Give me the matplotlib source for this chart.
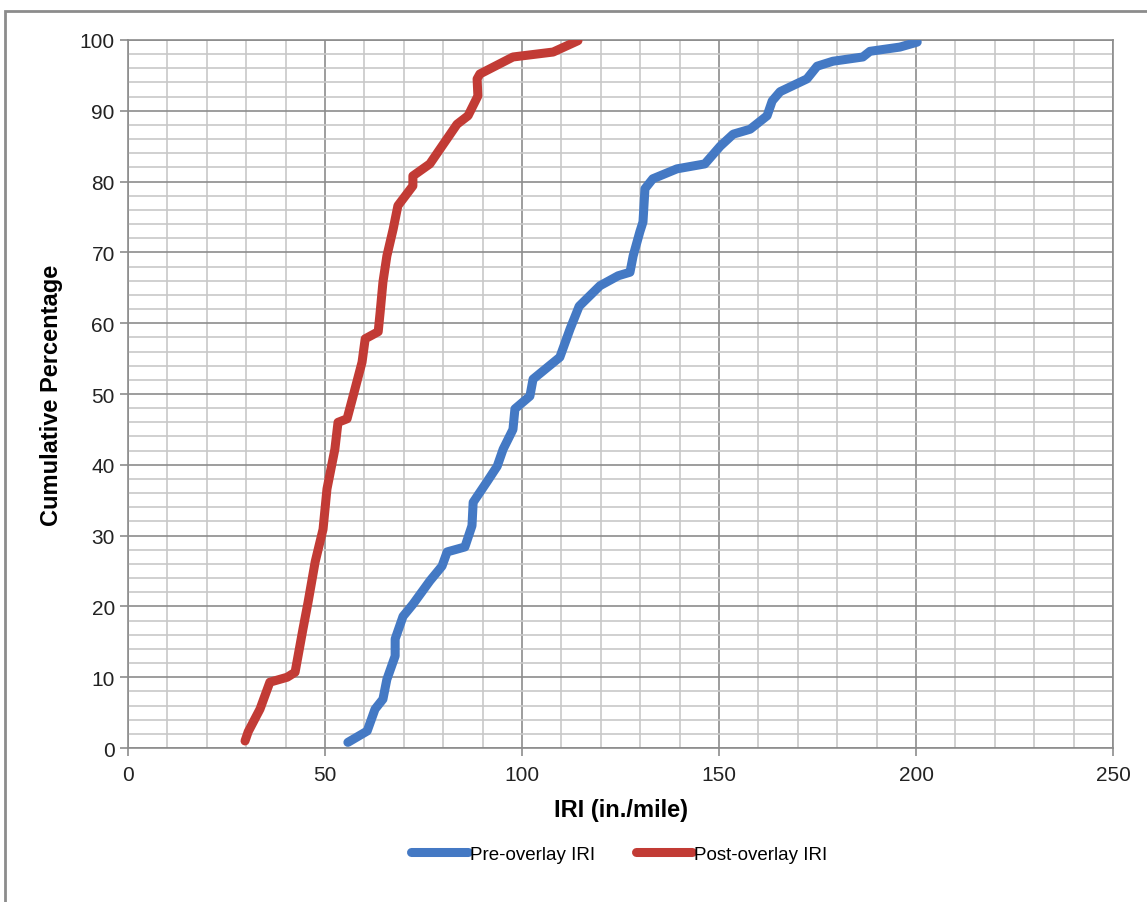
import matplotlib
matplotlib.use("Agg")

import matplotlib.pyplot as plt
from matplotlib.patches import Rectangle
from matplotlib.ticker import MultipleLocator

plt.rcParams['font.family'] = ['Liberation Sans', 'DejaVu Sans']

# Cumulative IRI distributions
pre_iri = [55.8, 60.7, 62.7, 64.7, 65.7, 67.8, 67.8, 69.8, 72.3, 76.6, 79.7, 81.0,
           85.5, 87.3, 87.6, 91.1, 93.7, 95.2, 97.7, 98.2, 102.0, 102.8, 109.6,
           112.2, 114.5, 119.8, 124.4, 127.4, 128.2, 129.9, 130.7, 131.2, 133.2,
           139.3, 146.4, 150.3, 153.6, 157.9, 162.2, 163.5, 165.5, 172.3, 174.9,
           178.9, 186.5, 188.3, 195.9, 200.3]
pre_pct = [0.8, 2.4, 5.5, 6.9, 9.7, 13.0, 15.4, 18.6, 20.3, 23.6, 25.7, 27.7,
           28.4, 31.4, 34.7, 37.6, 39.8, 42.2, 45.0, 47.9, 49.7, 52.1, 55.2,
           59.2, 62.4, 65.3, 66.7, 67.2, 69.5, 72.9, 74.3, 79.0, 80.4,
           81.8, 82.5, 85.0, 86.7, 87.4, 89.3, 91.4, 92.7, 94.5, 96.3,
           97.0, 97.6, 98.4, 99.0, 99.7]

post_iri = [29.7, 30.5, 33.5, 36.0, 40.4, 42.4, 44.4, 45.7, 47.5, 49.5, 50.5,
            52.5, 53.3, 55.6, 57.6, 59.4, 60.2, 63.5, 64.0, 64.7, 65.7, 67.3,
            68.5, 72.3, 72.3, 76.6, 83.5, 86.3, 88.8, 88.6, 89.3, 97.7, 107.9,
            114.2]
post_pct = [1.0, 2.3, 5.5, 9.3, 10.0, 10.7, 16.8, 20.6, 26.3, 30.9, 36.6,
            42.2, 46.0, 46.5, 50.7, 54.5, 57.8, 58.8, 61.6, 65.8, 69.5, 73.3,
            76.6, 79.4, 80.8, 82.5, 88.1, 89.3, 92.1, 94.5, 95.2, 97.6, 98.3,
            99.9]

blue = "#4479c4"
red = "#c23b35"

fig = plt.figure(figsize=(11.47, 9.03), dpi=100)
ax = fig.add_axes([0.1116, 0.1705, 0.8588, 0.7841])

# outer chart frame
fig.patches.append(Rectangle((5 / 1147, -0.01), 1.02, (903 - 12) / 903 + 0.01,
                             transform=fig.transFigure, fill=False,
                             edgecolor="#8c8c8c", linewidth=2))

ax.plot(pre_iri, pre_pct, color=blue, linewidth=6.5, solid_capstyle="round",
        solid_joinstyle="round", label="Pre-overlay IRI", zorder=3)
ax.plot(post_iri, post_pct, color=red, linewidth=6.5, solid_capstyle="round",
        solid_joinstyle="round", label="Post-overlay IRI", zorder=3)

ax.set_xlim(0, 250)
ax.set_ylim(0, 100)
ax.xaxis.set_major_locator(MultipleLocator(50))
ax.xaxis.set_minor_locator(MultipleLocator(10))
ax.yaxis.set_major_locator(MultipleLocator(10))
ax.yaxis.set_minor_locator(MultipleLocator(2))

ax.grid(which="major", color="#8c8c8c", linewidth=1.2, zorder=1)
ax.grid(which="minor", color="#c8c8c8", linewidth=1.2, zorder=0)
ax.set_axisbelow(True)

for side in ["top", "right", "left", "bottom"]:
    ax.spines[side].set_color("#8c8c8c")
    ax.spines[side].set_linewidth(1.2)

ax.tick_params(which="major", length=6, width=1.2, color="#8c8c8c",
               labelsize=15, labelcolor="#222222")
ax.tick_params(which="minor", length=0)
ax.tick_params(axis="x", pad=6)

ax.set_xlabel("IRI (in./mile)", fontsize=17, fontweight="bold", labelpad=10)
ax.set_ylabel("Cumulative Percentage", fontsize=17, fontweight="bold", labelpad=12)

fig.legend(loc="center", bbox_to_anchor=(0.54, 0.053), ncol=2, frameon=False,
           fontsize=13.5, handlelength=3.0, columnspacing=2.2, handletextpad=0.1)

fig.savefig("out.png", dpi=100)
